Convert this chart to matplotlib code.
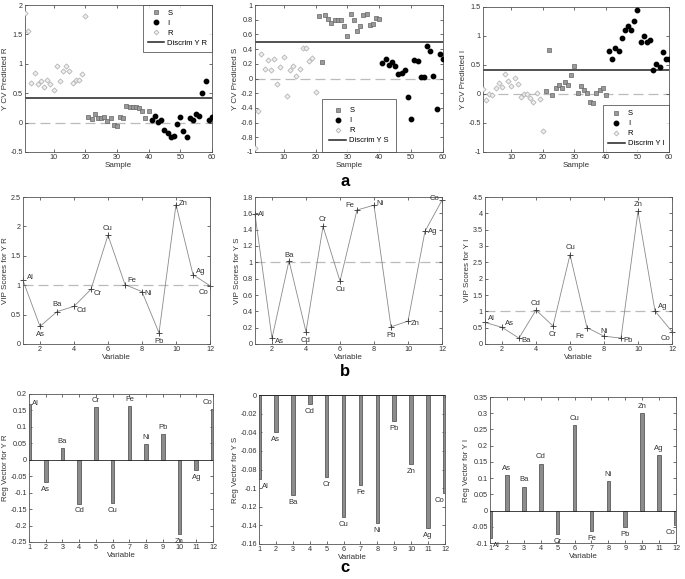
import matplotlib

matplotlib.use("Agg")
import matplotlib.pyplot as plt  # noqa: E402
from matplotlib.ticker import FuncFormatter  # noqa: E402
from matplotlib.lines import Line2D  # noqa: E402

plt.rcParams["font.family"] = ["Liberation Sans", "DejaVu Sans"]
plt.rcParams["font.size"] = 5.5

# ---- data -------------------------------------------------------------
samples_R = list(range(1, 21))
samples_S = list(range(21, 41))
samples_I = list(range(41, 61))

# panel a: CV predictions
predR_R = [1.86, 1.55, 0.67, 0.84, 0.65, 0.70, 0.61, 0.73, 0.65, 0.56,
           0.97, 0.70, 0.87, 0.97, 0.87, 0.68, 0.73, 0.73, 0.82, 1.82]
predR_S = [0.10, 0.06, 0.14, 0.07, 0.08, 0.10, 0.02, 0.07, -0.04, -0.06,
           0.10, 0.07, 0.28, 0.27, 0.27, 0.27, 0.25, 0.19, 0.08, 0.19]
predR_I = [0.05, 0.12, 0.01, 0.04, -0.13, -0.17, -0.24, -0.23, -0.02, 0.10,
           -0.15, -0.24, 0.07, 0.05, 0.15, 0.11, 0.51, 0.70, 0.05, 0.10]
discrim_R = 0.41

predS_R = [-0.95, -0.44, 0.34, 0.13, 0.25, 0.11, 0.27, -0.08, 0.15, 0.29,
           -0.24, 0.11, 0.17, 0.03, 0.13, 0.41, 0.41, 0.24, 0.28, -0.19]
predS_S = [0.85, 0.22, 0.87, 0.81, 0.76, 0.79, 0.79, 0.79, 0.71, 0.58,
           0.88, 0.79, 0.65, 0.71, 0.87, 0.88, 0.73, 0.74, 0.82, 0.81]
predS_I = [0.21, 0.27, 0.19, 0.22, 0.17, 0.06, 0.08, 0.11, -0.25, -0.55,
           0.25, 0.24, 0.02, 0.02, 0.44, 0.37, 0.03, -0.41, 0.33, 0.27]
discrim_S = 0.5

predI_R = [0.09, -0.10, 0.00, -0.01, 0.10, 0.19, 0.12, 0.35, 0.22, 0.13,
           0.27, 0.18, -0.05, 0.00, 0.00, -0.07, -0.13, 0.01, -0.09, -0.64]
predI_S = [0.06, 0.75, -0.01, 0.11, 0.16, 0.10, 0.20, 0.15, 0.33, 0.48,
           0.01, 0.14, 0.07, 0.02, -0.14, -0.16, 0.02, 0.07, 0.10, -0.01]
predI_I = [0.74, 0.60, 0.80, 0.74, 0.96, 1.11, 1.17, 1.11, 1.26, 1.45,
           0.89, 1.00, 0.90, 0.93, 0.41, 0.51, 0.46, 0.72, 0.61, 0.61]
discrim_I = 0.41

# panels b/c: variables
variables = list(range(1, 13))
elements = ["Al", "As", "Ba", "Cd", "Cr", "Cu", "Fe", "Ni", "Pb", "Zn", "Ag", "Co"]

vip_R = [1.08, 0.30, 0.55, 0.64, 0.93, 1.85, 1.01, 0.89, 0.19, 2.37, 1.18, 0.99]
vip_S = [1.59, 0.07, 1.02, 0.15, 1.44, 0.77, 1.64, 1.70, 0.21, 0.28, 1.38, 1.76]
vip_I = [0.66, 0.51, 0.18, 1.04, 0.55, 2.73, 0.50, 0.24, 0.18, 4.06, 1.01, 0.38]

reg_R = [0.17, -0.068, 0.035, -0.133, 0.16, -0.132, 0.162, 0.047, 0.079, -0.227, -0.03, 0.155]
reg_S = [-0.09, -0.04, -0.107, -0.01, -0.088, -0.131, -0.097, -0.137, -0.028, -0.074, -0.143, -0.105]
reg_I = [-0.085, 0.11, 0.074, 0.145, -0.072, 0.263, -0.064, 0.09, -0.05, 0.30, 0.172, -0.045]

# label offsets for VIP panels (points): dx, dy, ha
vip_offsets_R = [(3, 2, "left"), (0, -6, "center"), (0, 5, "center"), (2, -3, "left"),
                 (2, -3, "left"), (0, 5, "center"), (2, 3, "left"), (2, -1, "left"),
                 (0, -6, "center"), (2, 1, "left"), (2, 2, "left"), (-1, -5, "right")]
vip_offsets_S = [(2, 0, "left"), (2, -2, "left"), (0, 4, "center"), (0, -6, "center"),
                 (0, 5, "center"), (0, -6, "center"), (-2, 3, "right"), (2, 1, "left"),
                 (0, -6, "center"), (2, -2, "left"), (2, 0, "left"), (-2, 1, "right")]
vip_offsets_I = [(2, 3, "left"), (2, 3, "left"), (2, -2, "left"), (0, 5, "center"),
                 (0, -6, "center"), (0, 5, "center"), (-2, -6, "right"), (0, 3, "center"),
                 (2, -2, "left"), (0, 5, "center"), (2, 3, "left"), (-1, -5, "right")]

fmt = FuncFormatter(lambda v, _: f"{v:g}")
W, H = 685, 579
TXT = "#333333"


def make_ax(fig, left, right, top, bottom):
    ax = fig.add_axes([left / W, 1 - bottom / H, (right - left) / W, (bottom - top) / H])
    ax.tick_params(direction="in", top=True, right=True, length=2, width=0.5,
                   labelsize=5.2, pad=1.5, colors=TXT)
    for s in ax.spines.values():
        s.set_linewidth(0.6)
        s.set_color("#555555")
    ax.yaxis.set_major_formatter(fmt)
    ax.xaxis.set_major_formatter(fmt)
    return ax


def labels(ax, xlabel, ylabel):
    ax.set_xlabel(xlabel, fontsize=5.8, labelpad=0.5, color=TXT)
    ax.set_ylabel(ylabel, fontsize=5.8, labelpad=1, color=TXT)


def scatter_panel(ax, r, s, i, discrim, ylim, yticks, ylabel, leg_name, leg_loc, leg_anchor,
                  leg_pad=0.6):
    ax.axhline(0, color="#bbbbbb", lw=0.9, dashes=(8, 4), zorder=1)
    ax.scatter(samples_S, s, marker="s", s=9, facecolor="#9a9a9a", edgecolor="#666666",
               linewidth=0.5, zorder=3)
    ax.scatter(samples_I, i, marker="o", s=10, color="black", zorder=3)
    ax.scatter(samples_R, r, marker="D", s=7, facecolor="#eeeeee", edgecolor="#aaaaaa",
               linewidth=0.5, zorder=3)
    ax.axhline(discrim, color="#222222", lw=1.1, zorder=2)
    ax.set_xlim(1, 60)
    ax.set_ylim(*ylim)
    ax.set_yticks(yticks)
    ax.set_xticks([10, 20, 30, 40, 50, 60])
    labels(ax, "Sample", ylabel)
    handles = [
        Line2D([], [], ls="", marker="s", ms=3, mfc="#9a9a9a", mec="#666666", mew=0.5),
        Line2D([], [], ls="", marker="o", ms=3.2, color="black"),
        Line2D([], [], ls="", marker="D", ms=2.5, mfc="#eeeeee", mec="#aaaaaa", mew=0.5),
        Line2D([], [], color="#222222", lw=1.1),
    ]
    leg = ax.legend(handles, ["S", "I", "R", leg_name], loc=leg_loc, bbox_to_anchor=leg_anchor,
                    fontsize=5.5, frameon=True, fancybox=False, handlelength=2.2,
                    handletextpad=0.4, borderpad=leg_pad, labelspacing=0.35, borderaxespad=0)
    leg.get_frame().set_edgecolor("#333333")
    leg.get_frame().set_linewidth(0.6)


def vip_panel(ax, vals, offsets, ylim, yticks, ylabel):
    ax.axhline(1, color="#bbbbbb", lw=0.9, dashes=(8, 4), zorder=1)
    ax.plot(variables, vals, color="#8a8a8a", lw=0.6, marker="+", ms=4, mec="#333333",
            mew=0.6, zorder=2, clip_on=False)
    for x, y, name, (dx, dy, ha) in zip(variables, vals, elements, offsets):
        ax.annotate(name, (x, y), xytext=(dx, dy), textcoords="offset points",
                    ha=ha, va="center", fontsize=5.5, color=TXT)
    ax.set_xlim(1, 12)
    ax.set_ylim(*ylim)
    ax.set_yticks(yticks)
    ax.set_xticks([2, 4, 6, 8, 10, 12])
    labels(ax, "Variable", ylabel)


def reg_panel(ax, vals, ylim, yticks, ylabel):
    ax.bar(variables, vals, width=0.22, color="#8c8c8c", edgecolor="#444444", linewidth=0.5,
           zorder=2)
    ax.axhline(0, color="#222222", lw=0.6, zorder=3)
    span = ylim[1] - ylim[0]
    for x, y, name in zip(variables, vals, elements):
        ha = "center"
        dx = 0
        if x == 1:
            ha, dx = "left", 0.15
        elif x == 12:
            ha, dx = "right", -0.02
        yy = y + 0.045 * span if y >= 0 else y - 0.05 * span
        if x == 1 and y > 0:
            yy = y
        ax.text(x + dx, yy, name, ha=ha, va="center", fontsize=5.5, color=TXT, zorder=4)
    ax.set_xlim(1, 12)
    ax.set_ylim(*ylim)
    ax.set_yticks(yticks)
    ax.set_xticks(variables)
    labels(ax, "Variable", ylabel)


fig = plt.figure(figsize=(W / 100, H / 100), dpi=100)

# row a
a1 = make_ax(fig, 25, 212, 5, 152)
scatter_panel(a1, predR_R, predR_S, predR_I, discrim_R, (-0.5, 2),
              [-0.5, 0, 0.5, 1, 1.5, 2], "Y CV Predicted R", "Discrim Y R",
              "upper right", (1.0, 1.0))
a2 = make_ax(fig, 255, 443, 5, 152)
scatter_panel(a2, predS_R, predS_S, predS_I, discrim_S, (-1, 1),
              [-1, -0.8, -0.6, -0.4, -0.2, 0, 0.2, 0.4, 0.6, 0.8, 1], "Y CV Predicted S",
              "Discrim Y S", "lower left", (0.355, 0.0), leg_pad=1.0)
a3 = make_ax(fig, 483, 669, 7, 152)
scatter_panel(a3, predI_R, predI_S, predI_I, discrim_I, (-1, 1.5),
              [-1, -0.5, 0, 0.5, 1, 1.5], "Y CV Predicted I", "Discrim Y I",
              "lower right", (1.0, 0.0))

# row b
b1 = make_ax(fig, 23, 210, 197, 344)
vip_panel(b1, vip_R, vip_offsets_R, (0, 2.5), [0, 0.5, 1, 1.5, 2, 2.5], "VIP Scores for Y R")
b2 = make_ax(fig, 255, 442, 197, 344)
vip_panel(b2, vip_S, vip_offsets_S, (0, 1.8),
          [0, 0.2, 0.4, 0.6, 0.8, 1, 1.2, 1.4, 1.6, 1.8], "VIP Scores for Y S")
b3 = make_ax(fig, 485, 672, 197, 344)
vip_panel(b3, vip_I, vip_offsets_I, (0, 4.5),
          [0, 0.5, 1, 1.5, 2, 2.5, 3, 3.5, 4, 4.5], "VIP Scores for Y I")

# row c
c1 = make_ax(fig, 29, 213, 394, 542)
reg_panel(c1, reg_R, (-0.25, 0.2), [-0.25, -0.2, -0.15, -0.1, -0.05, 0, 0.05, 0.1, 0.15, 0.2],
          "Reg Vector for Y R")
c2 = make_ax(fig, 259, 445, 395, 544)
reg_panel(c2, reg_S, (-0.16, 0), [-0.16, -0.14, -0.12, -0.1, -0.08, -0.06, -0.04, -0.02, 0],
          "Reg Vector for Y S")
c3 = make_ax(fig, 490, 676, 397, 543)
reg_panel(c3, reg_I, (-0.1, 0.35), [-0.1, -0.05, 0, 0.05, 0.1, 0.15, 0.2, 0.25, 0.3, 0.35],
          "Reg Vector for Y I")

for letter, y in (("a", 182), ("b", 371), ("c", 568)):
    fig.text(345 / W, 1 - y / H, letter, ha="center", va="center", fontsize=12,
             fontweight="bold")

fig.savefig("out.png", dpi=100)
